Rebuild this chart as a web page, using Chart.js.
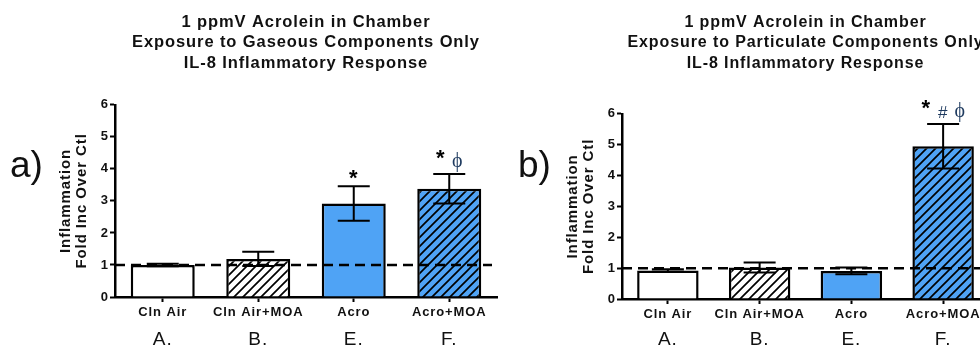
<!DOCTYPE html>
<html>
<head>
<meta charset="utf-8">
<script src="https://cdn.jsdelivr.net/npm/chart.js@4.4.1/dist/chart.umd.min.js"></script>
<style>
    html, body { margin: 0; padding: 0; background: #fff; }
    body { width: 980px; height: 349px; overflow: hidden; position: relative; font-family: "Liberation Sans", Arial, sans-serif; }
    .panel { position: absolute; top: 0; width: 500px; height: 349px; }
    #panel-a { left: 0; }
    #panel-b { left: 490px; }
    .tag { position: absolute; font-size: 37px; line-height: 1; color: #111; }
</style>
</head>
<body>
<div class="panel" id="panel-a"><canvas id="chart-a" width="500" height="349"></canvas></div>
<div class="panel" id="panel-b"><canvas id="chart-b" width="500" height="349"></canvas></div>
<div class="tag" style="left:10px; top:146px;">a)</div>
<div class="tag" style="left:518px; top:146px;">b)</div>
<script>
// Categories and group letters shared by both panels
var categories = ['Cln Air', 'Cln Air+MOA', 'Acro', 'Acro+MOA'];
var groupLetters = ['A.', 'B.', 'E.', 'F.'];

// y axis range (fold increase over control)
var yMin = 0;
var yMax = 6;
var yStep = 1;
var controlLevel = 1;

// a) gaseous components only
var gaseousTitle = ['1 ppmV Acrolein in Chamber', 'Exposure to Gaseous Components Only', 'IL-8 Inflammatory Response'];
var gaseousValues = [1.0, 1.19, 2.92, 3.38];
var gaseousErrors = [0.04, 0.22, 0.54, 0.46];
var gaseousMarks = ['', '', '*', '* \u03D5'];

// b) particulate components only
var particulateTitle = ['1 ppmV Acrolein in Chamber', 'Exposure to Particulate Components Only', 'IL-8 Inflammatory Response'];
var particulateValues = [0.92, 1.02, 0.91, 4.95];
var particulateErrors = [0.04, 0.16, 0.11, 0.72];
var particulateMarks = ['', '', '', '* # \u03D5'];

var yTitle = ['Inflammation', 'Fold Inc Over Ctl'];

var BLUE = '#4FA3F5';
var NAVY = '#1E3A5F';
var FONT = '"Liberation Sans", Arial, sans-serif';

// diagonal hatch fill like the GraphPad bars
function makeHatch(bg) {
    var size = 9;
    var c = document.createElement('canvas');
    c.width = size;
    c.height = size;
    var g = c.getContext('2d');
    g.fillStyle = bg;
    g.fillRect(0, 0, size, size);
    g.strokeStyle = '#000';
    g.lineWidth = 1.7;
    g.beginPath();
    g.moveTo(-1, 1); g.lineTo(1, -1);
    g.moveTo(0, size); g.lineTo(size, 0);
    g.moveTo(size - 1, size + 1); g.lineTo(size + 1, size - 1);
    g.stroke();
    return g.createPattern(c, 'repeat');
}

var fills = ['#ffffff', makeHatch('#ffffff'), BLUE, makeHatch(BLUE)];

// the original text is a little wider than Arial, so space it out
var spacingPlugin = {
    id: 'spacing',
    beforeUpdate: function (chart) { chart.ctx.letterSpacing = '0.9px'; },
    beforeDraw: function (chart) { chart.ctx.letterSpacing = '0.9px'; }
};

// error bars, dashed control line and significance marks
var extrasPlugin = {
    id: 'extras',
    afterDatasetsDraw: function (chart) {
        var ctx = chart.ctx;
        var ds = chart.data.datasets[0];
        var meta = chart.getDatasetMeta(0);
        var y = chart.scales.y;
        var area = chart.chartArea;

        ctx.save();

        // dashed line at control level
        var yc = y.getPixelForValue(controlLevel);
        ctx.strokeStyle = '#000';
        ctx.lineWidth = 2.5;
        ctx.setLineDash([10, 6]);
        ctx.beginPath();
        ctx.moveTo(area.left, yc);
        ctx.lineTo(area.right - 5, yc);
        ctx.stroke();
        ctx.setLineDash([]);

        ctx.lineWidth = 2;
        meta.data.forEach(function (bar, i) {
            var hi = y.getPixelForValue(ds.data[i] + ds.errors[i]);
            var lo = y.getPixelForValue(ds.data[i] - ds.errors[i]);
            ctx.beginPath();
            ctx.moveTo(bar.x, hi); ctx.lineTo(bar.x, lo);
            ctx.moveTo(bar.x - 16, hi); ctx.lineTo(bar.x + 16, hi);
            ctx.moveTo(bar.x - 16, lo); ctx.lineTo(bar.x + 16, lo);
            ctx.stroke();

            var syms = ds.marks[i].split(' ').filter(Boolean);
            ctx.textAlign = 'center';
            ctx.textBaseline = 'middle';
            syms.forEach(function (s, k) {
                var x = bar.x + (k - (syms.length - 1) / 2) * 17;
                if (s === '*') {
                    ctx.font = 'bold 22px ' + FONT;
                    ctx.fillStyle = '#000';
                    ctx.fillText(s, x, hi - (syms.length > 1 ? 15 : 7));
                } else if (s === '#') {
                    ctx.font = '17px ' + FONT;
                    ctx.fillStyle = NAVY;
                    ctx.fillText(s, x, hi - 11);
                } else {
                    ctx.font = '20px "Liberation Serif", serif';
                    ctx.fillStyle = NAVY;
                    ctx.fillText(s, x, hi - 12);
                }
            });
        });
        ctx.restore();
    }
};

function buildChart(canvasId, values, errors, marks, title, box) {
    var ctx = document.getElementById(canvasId).getContext('2d');
    return new Chart(ctx, {
        type: 'bar',
        data: {
            labels: categories,
            datasets: [{
                data: values,
                errors: errors,
                marks: marks,
                backgroundColor: fills,
                borderColor: '#000',
                borderWidth: 2.5,
                barPercentage: 1,
                categoryPercentage: 0.67
            }]
        },
        options: {
            responsive: false,
            animation: false,
            events: [],
            layout: { padding: { left: 0, right: box.right, top: 0, bottom: 0 } },
            plugins: {
                legend: { display: false },
                tooltip: { enabled: false },
                title: {
                    display: true,
                    fullSize: false,
                    text: title,
                    color: '#111',
                    font: { family: FONT, size: box.titleSize, weight: 'bold', lineHeight: 20.6 / box.titleSize },
                    padding: { top: 12, bottom: box.titleGap }
                }
            },
            scales: {
                x: {
                    offset: true,
                    weight: 0,
                    afterFit: function (s) { s.height = box.xHeight; },
                    border: { color: '#000', width: 2.5 },
                    grid: { offset: false, drawOnChartArea: false, tickLength: 5, tickWidth: 2, tickColor: '#000' },
                    ticks: { autoSkip: false, color: '#111', padding: 3, maxRotation: 0, font: { family: FONT, size: 13, weight: 'bold' } }
                },
                x2: {
                    type: 'category',
                    position: 'bottom',
                    labels: groupLetters,
                    offset: true,
                    weight: 1,
                    afterFit: function (s) { s.height = 349 - box.bottom - box.xHeight; },
                    border: { display: false },
                    grid: { display: false, drawTicks: false },
                    ticks: { autoSkip: false, color: '#111', padding: 1, maxRotation: 0, font: { family: FONT, size: 19 } }
                },
                y: {
                    min: yMin,
                    max: yMax,
                    afterFit: function (s) { s.width = box.left; },
                    border: { color: '#000', width: 2.5 },
                    grid: { drawOnChartArea: false, tickLength: 5, tickWidth: 2, tickColor: '#000' },
                    ticks: { stepSize: yStep, color: '#111', padding: 1, font: { family: FONT, size: 13, weight: 'bold' } },
                    title: {
                        display: true,
                        text: yTitle,
                        color: '#111',
                        font: { family: FONT, size: 15, weight: 'bold', lineHeight: 1.07 },
                        padding: { top: box.yTitleX, bottom: 0 }
                    }
                }
            }
        },
        plugins: [spacingPlugin, extrasPlugin]
    });
}

buildChart('chart-a', gaseousValues, gaseousErrors, gaseousMarks, gaseousTitle,
    { left: 115, right: 3, titleSize: 16.5, titleGap: 31, xHeight: 30, bottom: 297, yTitleX: 58 });
buildChart('chart-b', particulateValues, particulateErrors, particulateMarks, particulateTitle,
    { left: 132, right: 1, titleSize: 16, titleGap: 40, xHeight: 28, bottom: 299, yTitleX: 75 });
</script>
</body>
</html>
